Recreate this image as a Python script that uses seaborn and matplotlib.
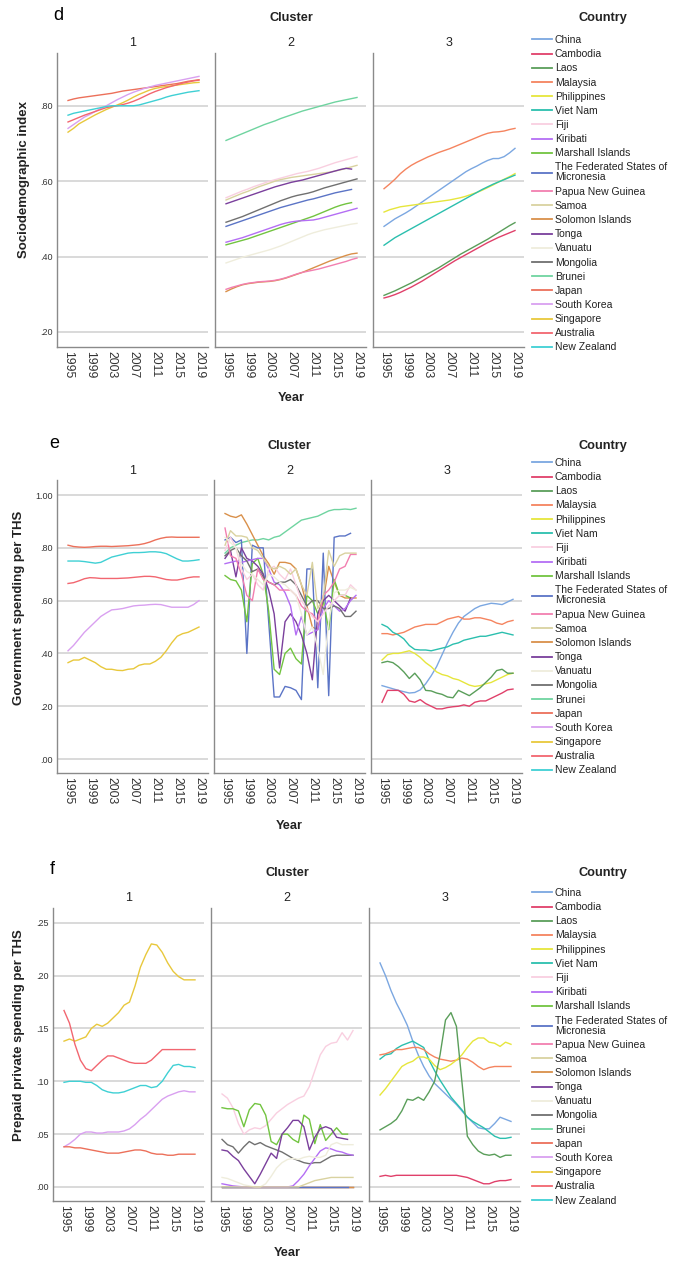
import pandas as pd
import seaborn as sb
import matplotlib.pyplot as plt
from matplotlib.lines import Line2D
from matplotlib.ticker import FuncFormatter

W, H = 677, 1263
nan = float("nan")

years = list(range(1995, 2020))
year_ticks = [1995, 1999, 2003, 2007, 2011, 2015, 2019]

countries = ["China", "Cambodia", "Laos", "Malaysia", "Philippines", "Viet Nam", "Fiji",
             "Kiribati", "Marshall Islands", "The Federated States of Micronesia",
             "Papua New Guinea", "Samoa", "Solomon Islands", "Tonga", "Vanuatu",
             "Mongolia", "Brunei", "Japan", "South Korea", "Singapore", "Australia",
             "New Zealand"]
colors = ["#7ba7e1", "#e0406a", "#5a9e5a", "#f5845f", "#e6e63c", "#2bbfae", "#f9cfe0",
          "#b46ef4", "#72c440", "#5b74c6", "#f27fb0", "#d9d2a0", "#d9904a", "#7a3f9c",
          "#efeddc", "#707070", "#6fd4a0", "#ec705a", "#d9a0f0", "#e8c83c", "#f26670",
          "#3fd0d4"]
palette = dict(zip(countries, colors))

# ---- Sociodemographic index ----
sdi_1 = {
    "Japan": [.814, .818, .821, .823, .825, .827, .829, .831, .833, .836, .839, .841, .843, .845, .847, .849, .851, .853, .855, .857, .859, .862, .865, .867, .869],
    "South Korea": [.740, .750, .760, .770, .777, .785, .793, .800, .808, .816, .823, .830, .836, .841, .846, .850, .854, .857, .860, .863, .866, .869, .872, .875, .878],
    "Singapore": [.730, .740, .752, .760, .768, .776, .783, .790, .796, .802, .808, .815, .823, .830, .836, .842, .846, .849, .851, .853, .855, .857, .859, .861, .862],
    "Australia": [.757, .763, .769, .775, .780, .785, .790, .795, .798, .800, .803, .807, .812, .818, .825, .832, .838, .843, .848, .852, .856, .860, .863, .866, .868],
    "New Zealand": [.775, .780, .783, .786, .789, .792, .795, .798, .800, .800, .800, .800, .800, .802, .806, .810, .814, .818, .823, .827, .830, .833, .836, .838, .840],
}
sdi_2 = {
    "Brunei": [.708, .714, .720, .726, .732, .738, .744, .750, .755, .760, .766, .771, .776, .781, .786, .790, .794, .798, .802, .806, .810, .813, .816, .819, .822],
    "Fiji": [.556, .562, .568, .574, .579, .585, .590, .595, .600, .604, .608, .612, .616, .620, .623, .626, .630, .634, .639, .644, .649, .653, .657, .661, .665],
    "Samoa": [.550, .556, .562, .568, .573, .579, .585, .590, .595, .600, .604, .607, .610, .612, .614, .616, .618, .620, .622, .624, .627, .630, .634, .638, .642],
    "Tonga": [.540, .545, .550, .555, .560, .565, .570, .575, .580, .585, .589, .593, .597, .600, .603, .607, .611, .615, .619, .623, .627, .631, .634, .632, nan],
    "Mongolia": [.491, .496, .501, .506, .512, .518, .524, .530, .536, .542, .548, .553, .558, .562, .565, .568, .572, .577, .582, .586, .590, .594, .598, .602, .606],
    "The Federated States of Micronesia": [.480, .485, .490, .495, .500, .505, .510, .515, .520, .525, .530, .534, .538, .542, .546, .550, .553, .557, .561, .565, .569, .572, .575, .578, nan],
    "Marshall Islands": [.431, .435, .439, .443, .447, .452, .457, .462, .467, .472, .477, .482, .487, .492, .497, .502, .507, .513, .519, .525, .531, .536, .540, .543, nan],
    "Kiribati": [.438, .442, .446, .450, .455, .460, .465, .470, .475, .480, .485, .489, .492, .494, .495, .496, .497, .500, .504, .508, .512, .516, .520, .524, .528],
    "Vanuatu": [.383, .388, .393, .398, .402, .406, .410, .414, .418, .423, .428, .434, .440, .446, .452, .458, .463, .467, .471, .474, .477, .480, .483, .486, .488],
    "Solomon Islands": [.307, .314, .320, .325, .328, .330, .332, .333, .334, .336, .339, .343, .348, .353, .358, .364, .370, .376, .382, .388, .393, .398, .403, .407, .409],
    "Papua New Guinea": [.313, .318, .322, .326, .329, .331, .333, .334, .335, .337, .340, .344, .349, .354, .358, .361, .364, .367, .371, .375, .379, .383, .387, .392, .396],
}
sdi_3 = {
    "Malaysia": [.580, .592, .605, .620, .632, .642, .650, .657, .664, .670, .676, .681, .686, .692, .698, .704, .710, .716, .722, .727, .730, .731, .733, .737, .740],
    "China": [.480, .490, .500, .508, .516, .525, .535, .545, .555, .565, .575, .585, .595, .605, .615, .625, .633, .640, .648, .655, .660, .660, .665, .675, .687],
    "Philippines": [.518, .524, .528, .532, .534, .536, .538, .540, .542, .544, .546, .548, .550, .553, .556, .560, .565, .570, .576, .583, .590, .598, .605, .612, .620],
    "Viet Nam": [.430, .440, .450, .458, .466, .474, .482, .490, .498, .506, .514, .522, .530, .538, .546, .554, .562, .570, .578, .585, .592, .598, .604, .610, .616],
    "Laos": [.297, .303, .309, .316, .323, .330, .338, .346, .354, .362, .370, .379, .388, .397, .406, .414, .422, .430, .438, .446, .455, .464, .473, .482, .490],
    "Cambodia": [.290, .294, .299, .305, .312, .319, .327, .335, .344, .353, .362, .371, .380, .389, .397, .405, .413, .421, .429, .437, .444, .451, .457, .463, .469],
}

# ---- Government spending per THS ----
gov_1 = {
    "Japan": [.810, .805, .803, .802, .803, .805, .806, .806, .805, .806, .807, .808, .810, .812, .816, .822, .830, .836, .840, .841, .840, .840, .840, .840, .840],
    "New Zealand": [.750, .750, .750, .748, .745, .742, .745, .755, .765, .770, .775, .780, .782, .782, .783, .785, .785, .783, .778, .768, .758, .750, .750, .752, .755],
    "Australia": [.665, .668, .675, .683, .687, .686, .684, .684, .684, .684, .685, .686, .688, .690, .692, .692, .690, .685, .680, .678, .678, .682, .687, .690, .690],
    "South Korea": [.410, .430, .455, .480, .500, .520, .540, .553, .565, .567, .570, .575, .580, .582, .583, .585, .586, .585, .580, .575, .575, .575, .575, .585, .600],
    "Singapore": [.365, .375, .375, .385, .375, .365, .350, .340, .340, .336, .335, .340, .342, .355, .360, .360, .370, .385, .410, .440, .465, .475, .480, .490, .500],
}
gov_2 = {
    "Brunei": [.780, .800, .810, .820, .825, .830, .830, .835, .830, .840, .845, .860, .875, .890, .905, .910, .915, .920, .930, .940, .945, .945, .947, .945, .950],
    "Solomon Islands": [.930, .920, .915, .925, .890, .850, .810, .770, .740, .700, .745, .745, .740, .720, .660, .580, .500, .490, .600, .730, .670, .620, .610, .610, .610],
    "The Federated States of Micronesia": [.830, .840, .820, .830, .400, .810, .800, .800, .520, .235, .235, .275, .270, .260, .225, .720, .720, .270, .780, .240, .840, .845, .845, .855, nan],
    "Marshall Islands": [.695, .680, .675, .640, .520, .740, .760, .700, .560, .340, .320, .400, .420, .380, .360, .620, .600, .550, .600, .490, .680, .620, .620, .610, nan],
    "Tonga": [.760, .790, .690, .800, .760, .750, .730, .700, .640, .550, .345, .520, .550, .520, .470, .400, .300, .550, .600, .620, .600, .580, .560, .610, nan],
    "Kiribati": [.740, .745, .750, .745, .750, .755, .760, .760, .720, .670, .660, .630, .580, .470, .540, .470, .480, .490, .570, .600, .580, .560, .570, .600, .620],
    "Mongolia": [.770, .790, .800, .770, .750, .710, .720, .690, .670, .660, .670, .670, .680, .660, .620, .580, .600, .600, .570, .570, .580, .570, .540, .540, .560],
    "Papua New Guinea": [.875, .770, .760, .700, .620, .600, .720, .680, .670, .660, .640, .640, .640, .620, .580, .560, .550, .520, .620, .640, .670, .720, .730, .775, .775],
    "Fiji": [.790, .840, .800, .720, .680, .700, .660, .640, .720, .730, .700, .680, .720, .660, .600, .570, .540, .520, .550, .580, .600, .620, .620, .660, .640],
    "Samoa": [.810, .865, .845, .845, .840, .800, .790, .760, .730, .720, .730, .720, .700, .720, .660, .620, .745, .570, .610, .790, .730, .770, .780, .780, .780],
    "Vanuatu": [.840, .820, .800, .740, .710, .700, .680, .660, .700, .690, .670, .660, .640, .620, .550, .470, .500, .420, .320, .520, .630, .640, .640, .650, .640],
}
gov_3 = {
    "China": [.278, .272, .266, .260, .255, .250, .252, .262, .285, .315, .350, .395, .440, .480, .515, .540, .555, .570, .580, .585, .590, .588, .585, .595, .605],
    "Malaysia": [.475, .475, .470, .475, .480, .490, .500, .505, .510, .510, .510, .520, .530, .535, .540, .530, .530, .535, .535, .530, .525, .515, .510, .520, .525],
    "Viet Nam": [.510, .500, .480, .470, .455, .430, .415, .413, .413, .410, .415, .420, .425, .435, .440, .450, .455, .460, .465, .465, .470, .475, .480, .475, .470],
    "Philippines": [.375, .395, .400, .400, .405, .410, .400, .385, .365, .350, .330, .320, .315, .305, .300, .290, .280, .275, .278, .285, .290, .300, .310, .320, .325],
    "Laos": [.365, .370, .365, .350, .330, .305, .325, .300, .260, .258, .250, .245, .235, .232, .260, .250, .240, .255, .270, .290, .310, .335, .340, .325, .325],
    "Cambodia": [.215, .260, .260, .260, .245, .220, .215, .225, .210, .200, .190, .190, .195, .198, .200, .205, .200, .215, .220, .220, .230, .240, .250, .262, .265],
}

# ---- Prepaid private spending per THS ----
pre_1 = {
    "Singapore": [.138, .140, .138, .140, .142, .150, .154, .152, .155, .160, .165, .172, .175, .190, .208, .220, .230, .229, .222, .212, .204, .199, .196, .196, .196],
    "Australia": [.167, .155, .135, .120, .112, .110, .115, .120, .124, .124, .122, .120, .118, .117, .117, .117, .120, .125, .130, .130, .130, .130, .130, .130, .130],
    "New Zealand": [.099, .100, .100, .100, .099, .099, .096, .092, .090, .089, .089, .090, .092, .094, .096, .096, .094, .095, .100, .108, .115, .116, .114, .114, .113],
    "South Korea": [.038, .041, .045, .050, .052, .052, .051, .051, .052, .052, .052, .053, .055, .059, .064, .068, .073, .078, .083, .086, .088, .090, .091, .090, .090],
    "Japan": [.038, .038, .037, .037, .036, .035, .034, .033, .032, .032, .032, .033, .034, .035, .035, .034, .032, .031, .031, .030, .030, .031, .031, .031, .031],
}
pre_2 = {
    "Brunei": [0.0] * 25,
    "Papua New Guinea": [0.0] * 25,
    "Solomon Islands": [0.0] * 25,
    "The Federated States of Micronesia": [0.0] * 24 + [nan],
    "Fiji": [.088, .084, .075, .060, .050, .054, .056, .055, .058, .064, .070, .074, .078, .081, .084, .086, .095, .110, .125, .133, .136, .137, .146, .139, .148],
    "Marshall Islands": [.075, .074, .074, .072, .057, .073, .079, .078, .068, .043, .040, .050, .050, .045, .042, .068, .064, .041, .059, .044, .050, .056, .050, .050, nan],
    "Mongolia": [.045, .040, .038, .032, .038, .043, .040, .042, .039, .037, .035, .033, .030, .027, .025, .023, .022, .023, .023, .026, .029, .030, .030, .030, .030],
    "Tonga": [.035, .034, .029, .025, .017, .010, .003, .012, .022, .032, .027, .050, .056, .063, .063, .057, .035, .047, .055, .057, .055, .047, .046, .045, nan],
    "Kiribati": [.003, .002, .001, .0005, 0, 0, 0, 0, 0, 0, 0, 0, 0, .001, .006, .012, .020, .027, .034, .037, .036, .034, .033, .031, .030],
    "Vanuatu": [.009, .008, .006, .004, .002, .001, 0, 0, .003, .010, .018, .023, .026, .027, .026, .028, .029, .028, .028, .030, .040, .042, .040, .040, .040],
    "Samoa": [0, 0, 0, 0, 0, 0, 0, 0, 0, 0, 0, 0, 0, 0, 0, .002, .004, .006, .007, .008, .009, .009, .009, .009, .009],
}
pre_3 = {
    "China": [.212, .200, .186, .174, .164, .153, .138, .125, .114, .105, .098, .093, .088, .083, .078, .072, .066, .061, .056, .055, .055, .060, .066, .064, .062],
    "Viet Nam": [.121, .125, .126, .131, .134, .136, .138, .135, .132, .120, .110, .101, .093, .085, .079, .073, .066, .062, .059, .056, .052, .048, .046, .046, .047],
    "Malaysia": [.125, .126, .128, .130, .130, .131, .132, .132, .130, .126, .123, .121, .120, .119, .120, .122, .121, .118, .114, .111, .113, .114, .114, .114, .114],
    "Philippines": [.087, .093, .100, .107, .114, .117, .119, .123, .123, .121, .115, .111, .113, .116, .120, .125, .132, .138, .141, .141, .137, .136, .133, .137, .135],
    "Laos": [.054, .057, .060, .064, .072, .083, .082, .085, .082, .090, .100, .125, .158, .165, .152, .100, .048, .040, .034, .031, .030, .031, .028, .030, .030],
    "Cambodia": [.010, .011, .010, .011, .011, .011, .011, .011, .011, .011, .011, .011, .011, .011, .011, .010, .009, .007, .005, .003, .003, .005, .006, .006, .007],
}


def long_frame(series):
    rows = []
    for country, vals in series.items():
        for yr, v in zip(years, vals):
            rows.append((country, yr, v))
    return pd.DataFrame(rows, columns=["Country", "Year", "value"])


def fmt(v, _):
    return f"{v:.2f}" if v >= 1 else f"{v:.2f}".replace("0.", ".", 1)


def px(x, y):
    return x / W, 1 - y / H


plt.rcParams["font.family"] = ["Liberation Sans", "DejaVu Sans"]
fig = plt.figure(figsize=(W / 100, H / 100), dpi=100)

panels = [
    dict(letter="d", ylabel="Sociodemographic index", data=[sdi_1, sdi_2, sdi_3],
         ylim=(0.16, 0.94), yticks=[.2, .4, .6, .8], top=53, bottom=347,
         lefts=[57, 215, 373], letter_pos=(58, 15), cluster_y=18, facet_y=43,
         centre=291, ylab=(24, 180), year_y=398, leg_top=35),
    dict(letter="e", ylabel="Government spending per THS", data=[gov_1, gov_2, gov_3],
         ylim=(-0.053, 1.057), yticks=[0, .2, .4, .6, .8, 1.0], top=480, bottom=773,
         lefts=[57, 214, 371], letter_pos=(54, 443), cluster_y=446, facet_y=471,
         centre=289, ylab=(19, 608), year_y=826, leg_top=458),
    dict(letter="f", ylabel="Prepaid private spending per THS", data=[pre_1, pre_2, pre_3],
         ylim=(-0.0133, 0.264), yticks=[0, .05, .10, .15, .20, .25], top=908, bottom=1201,
         lefts=[53, 211, 369], letter_pos=(52, 869), cluster_y=873, facet_y=898,
         centre=287, ylab=(19, 1035), year_y=1253, leg_top=888),
]

handles = [Line2D([0], [0], color=c, lw=1.3) for c in colors]
labels = [c.replace("States of ", "States of\n") for c in countries]

for p in panels:
    for k, series in enumerate(p["data"]):
        left = p["lefts"][k]
        ax = fig.add_axes([left / W, 1 - p["bottom"] / H, 151 / W, (p["bottom"] - p["top"]) / H])
        df = long_frame(series)
        sb.lineplot(data=df, x="Year", y="value", hue="Country", palette=palette,
                    estimator=None, lw=1.0, legend=False, ax=ax)
        ax.set_xlim(1992.98, 2020.65)
        ax.set_ylim(*p["ylim"])
        ax.set_yticks(p["yticks"])
        ax.yaxis.set_major_formatter(FuncFormatter(fmt))
        ax.set_xticks(year_ticks)
        ax.set_xticklabels([str(y) for y in year_ticks], rotation=270, fontsize=8.8, color="#333333")
        ax.tick_params(axis="y", labelsize=6.5, labelcolor="#333333", length=0, pad=3)
        ax.tick_params(axis="x", length=0, pad=3)
        if k > 0:
            ax.tick_params(axis="y", labelleft=False)
        ax.grid(axis="y", color="#d0d0d0", lw=1.1)
        ax.set_axisbelow(True)
        ax.set_xlabel("")
        ax.set_ylabel("")
        for s in ["top", "right"]:
            ax.spines[s].set_visible(False)
        for s in ["left", "bottom"]:
            ax.spines[s].set_color("#8a8a8a")
            ax.spines[s].set_linewidth(1.0)
        fig.text(*px(left + 76, p["facet_y"]), str(k + 1), ha="center", va="center",
                 fontsize=9, color="#222222")

    fig.text(*px(*p["letter_pos"]), p["letter"], ha="center", va="center", fontsize=13)
    fig.text(*px(p["centre"], p["cluster_y"]), "Cluster", ha="center", va="center",
             fontsize=9.2, fontweight="bold", color="#222222")
    fig.text(*px(p["centre"], p["year_y"]), "Year", ha="center", va="center",
             fontsize=9.2, fontweight="bold", color="#222222")
    fig.text(*px(*p["ylab"]), p["ylabel"], ha="center", va="center", rotation=90,
             fontsize=9.5, fontweight="bold", color="#222222")
    fig.text(*px(603, p["cluster_y"]), "Country", ha="center", va="center",
             fontsize=9.2, fontweight="bold", color="#222222")
    leg = fig.legend(handles, labels, loc="upper left", bbox_to_anchor=px(532, p["leg_top"]),
                     frameon=False, fontsize=7.5, handlelength=1.9, handletextpad=0.3,
                     labelspacing=0.4, borderaxespad=0, borderpad=0, labelcolor="#222222")
    for t in leg.get_texts():
        t.set_linespacing(1.0)

fig.savefig("out.png", dpi=100)
